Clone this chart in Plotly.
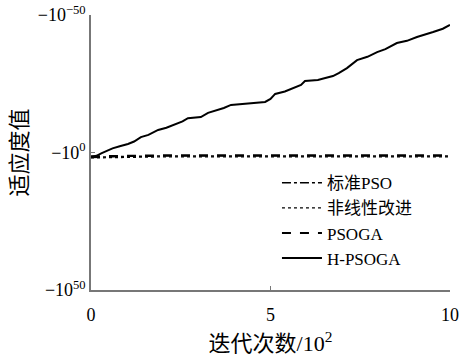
import plotly.graph_objects as go

# Data: y values are exponents e of fitness f = -10^e
hx = [0.0, 0.15, 0.3, 0.47, 0.6, 0.8, 1.03, 1.2, 1.39, 1.6, 1.87, 2.1, 2.42, 2.55, 2.70, 2.9, 3.06, 3.26,
      3.5, 3.7, 3.90, 4.2, 4.57, 4.85, 5.0, 5.13, 5.4, 5.68, 5.85, 5.96, 6.32, 6.5, 6.74, 6.9, 7.13, 7.41,
      7.7, 7.97, 8.2, 8.52, 8.8, 9.08, 9.3, 9.53, 9.8, 10.0]
hy = [1.6, 1.2, 0.2, -0.9, -1.5, -2.3, -3.1, -4.0, -5.6, -6.4, -8.2, -9.0, -10.7, -11.3, -12.5, -12.7, -12.9, -14.4,
      -15.3, -16.2, -17.3, -17.6, -18.0, -18.4, -19.5, -21.3, -22.2, -23.8, -24.6, -26.0, -26.4, -27.0, -27.8, -28.9, -30.7, -33.6,
      -34.8, -36.5, -37.6, -39.8, -40.6, -42.0, -42.8, -43.8, -45.0, -46.4]

fx = [0, 1, 2, 3, 4, 5, 6, 7, 8, 9, 10]
pso_y = [1.8, 1.4, 1.3, 1.3, 1.3, 1.3, 1.3, 1.3, 1.3, 1.3, 1.3]
nl_y = [2.0, 1.7, 1.6, 1.6, 1.6, 1.6, 1.6, 1.6, 1.6, 1.6, 1.6]
psoga_y = [1.4, 1.1, 1.0, 1.0, 1.0, 1.0, 1.0, 1.0, 1.0, 1.0, 1.0]

yticks = [-50, 0, 50]
ytext = ["−10<sup>−50</sup>", "−10<sup>0</sup>", "−10<sup>50</sup>"]
xticks = [0, 5, 10]

names = ["标准PSO", "非线性改进", "PSOGA", "H-PSOGA"]

fig = go.Figure()
fig.add_trace(go.Scatter(x=fx, y=pso_y, mode="lines", name=names[0],
                         line=dict(color="black", width=1.5, dash="dashdot")))
fig.add_trace(go.Scatter(x=fx, y=nl_y, mode="lines", name=names[1],
                         line=dict(color="black", width=1.2, dash="dot")))
fig.add_trace(go.Scatter(x=fx, y=psoga_y, mode="lines", name=names[2],
                         line=dict(color="black", width=2, dash="dash")))
fig.add_trace(go.Scatter(x=hx, y=hy, mode="lines", name=names[3],
                         line=dict(color="black", width=2)))

font_main = "Liberation Serif, Noto Sans CJK SC, serif"
fig.update_layout(
    width=461, height=356,
    margin=dict(l=91, r=11, t=15, b=66, autoexpand=False),
    paper_bgcolor="white", plot_bgcolor="white",
    font=dict(family=font_main, size=16, color="black"),
    showlegend=True,
    legend=dict(x=0.518, y=0.454, xanchor="left", yanchor="top",
                bgcolor="rgba(0,0,0,0)", font=dict(size=17, family=font_main),
                tracegroupgap=0, itemwidth=40),
)
fig.update_xaxes(range=[0, 10], tickvals=xticks, ticktext=[str(v) for v in xticks],
                 showline=True, linecolor="#777", linewidth=1.5, mirror=False, automargin=False,
                 ticklabeloverflow="allow", ticklabelstandoff=8,
                 ticks="inside", ticklen=4, tickcolor="#777", showgrid=False, zeroline=False,
                 tickfont=dict(size=18), title=dict(text="迭代次数/10<sup>2</sup>", font=dict(size=22), standoff=22))
fig.update_yaxes(range=[50, -50], tickvals=yticks, ticktext=ytext, automargin=False,
                 ticklabeloverflow="allow",
                 showline=True, linecolor="#777", linewidth=1.5,
                 ticks="inside", ticklen=4, tickcolor="#777", showgrid=False, zeroline=False,
                 tickfont=dict(size=18), title=dict(text="适应度值", font=dict(size=22), standoff=4))

fig.write_html("out.html", config={"displayModeBar": False},
               post_script="document.body.style.margin='0';document.body.style.overflow='hidden';")
